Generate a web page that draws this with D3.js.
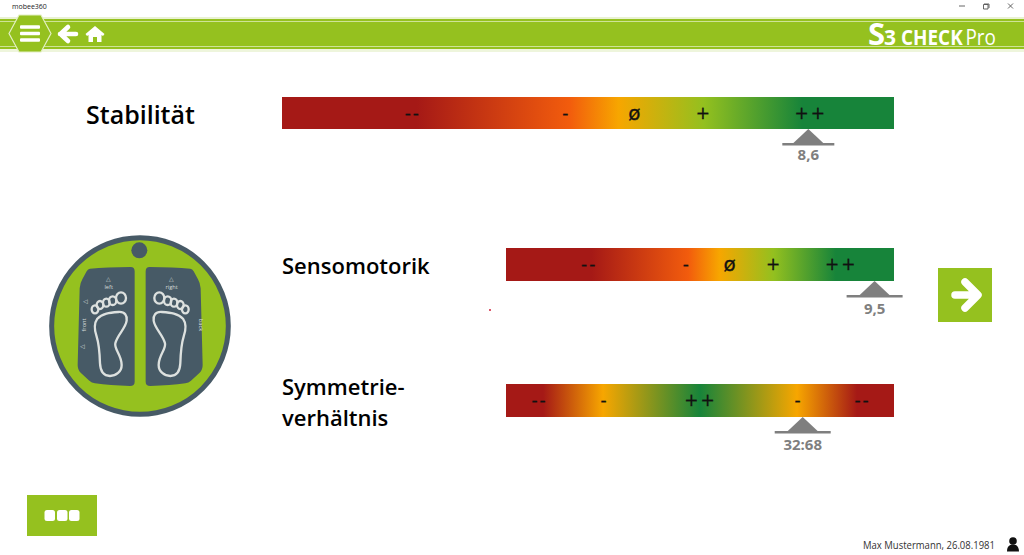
<!DOCTYPE html>
<html>
<head>
<meta charset="utf-8">
<script src="https://cdn.jsdelivr.net/npm/d3@7"></script>
<style>
  html, body { margin: 0; padding: 0; background: #fff; overflow: hidden; }
  text { font-family: "Open Sans", sans-serif; }
</style>
</head>
<body>
<script>
// data
const scoreTicks = [2.13, 4.62, 5.75, 6.87, 8.63];
const scoreLabels = ["--", "-", "ø", "+", "++"];
const scoreStops = [0, 2.2, 4.7, 5.5, 6.9, 8.5, 10];
const scoreColors = ["#a51916", "#a51916", "#f25c0d", "#f7a600", "#93c01f", "#17843a", "#17843a"];

const ratioTicks = [21.8, 33, 50, 67, 78.4];
const ratioLabels = ["--", "-", "++", "-", "--"];
const ratioStops = [16, 22.5, 33, 50, 67, 77.5, 84];
const ratioColors = ["#a51916", "#a51916", "#f7a600", "#17843a", "#f7a600", "#a51916", "#a51916"];

const stabilityValue = 8.6;
const stabilityLabel = "8,6";
const sensomotorValue = 9.5;
const sensomotorLabel = "9,5";
const symmetryValue = 68;
const symmetryLabel = "32:68";

const green = "#95c11f";
const slate = "#475a66";
const markerGrey = "#7f7f7f";

const svg = d3.select("body").append("svg")
    .attr("width", 1024)
    .attr("height", 555)
    .style("display", "block");
const defs = svg.append("defs");

// draw one gradient bar with its axis and marker
function drawBar(id, left, right, top, height, domain, stops, colors, ticks, labels, value, valueLabel, lineHalf, labelGap) {
    const x = d3.scaleLinear().domain(domain).range([left, right]);

    const grad = defs.append("linearGradient").attr("id", id);
    grad.selectAll("stop")
        .data(stops)
        .enter()
        .append("stop")
        .attr("offset", d => (d - domain[0]) / (domain[1] - domain[0]))
        .attr("stop-color", (d, i) => colors[i]);

    svg.append("rect")
        .attr("x", left)
        .attr("y", top)
        .attr("width", right - left)
        .attr("height", height)
        .attr("fill", "url(#" + id + ")");

    // tick labels sit inside the bar
    const axis = d3.axisBottom(x)
        .tickValues(ticks)
        .tickSize(0)
        .tickPadding(0)
        .tickFormat((d, i) => labels[i]);
    const axisGroup = svg.append("g")
        .attr("transform", "translate(0," + (top + height / 2) + ")")
        .call(axis);
    axisGroup.select(".domain").remove();
    axisGroup.selectAll("text")
        .attr("y", 0)
        .attr("dy", "0.33em")
        .style("font-family", "'DejaVu Sans', sans-serif")
        .style("font-size", (d, i) => labels[i] == "ø" ? "20px" : "17px")
        .style("letter-spacing", (d, i) => labels[i].length > 1 ? "2px" : "0")
        .attr("fill", "#111")
        .attr("stroke", "#111")
        .attr("stroke-width", 0.3);

    // marker under the bar
    const mx = x(value);
    const by = top + height;
    svg.append("path")
        .attr("d", "M" + mx + "," + by + "L" + (mx + 16) + "," + (by + 15) + "L" + (mx - 16) + "," + (by + 15) + "Z")
        .attr("fill", markerGrey);
    svg.append("rect")
        .attr("x", mx - lineHalf)
        .attr("y", by + 14)
        .attr("width", lineHalf * 2)
        .attr("height", 2.5)
        .attr("fill", markerGrey);
    svg.append("text")
        .text(valueLabel)
        .attr("x", mx)
        .attr("y", by + labelGap)
        .attr("text-anchor", "middle")
        .style("font-size", "15px")
        .style("font-weight", 700)
        .attr("fill", markerGrey);
}

drawBar("stabGrad", 282, 894, 97, 32, [0, 10], scoreStops, scoreColors, scoreTicks, scoreLabels, stabilityValue, stabilityLabel, 26, 31);
drawBar("sensGrad", 506, 894, 248, 33, [0, 10], scoreStops, scoreColors, scoreTicks, scoreLabels, sensomotorValue, sensomotorLabel, 28, 33);
drawBar("symGrad", 506, 894, 384, 33, [16, 84], ratioStops, ratioColors, ratioTicks, ratioLabels, symmetryValue, symmetryLabel, 28, 33);

// bar titles
function title(txt, tx, ty, size) {
    svg.append("text")
        .text(txt)
        .attr("x", tx)
        .attr("y", ty)
        .style("font-size", size + "px")
        .style("font-weight", 600)
        .attr("fill", "#000");
}
title("Stabilität", 86, 124, 25);
title("Sensomotorik", 282, 274, 22);
title("Symmetrie-", 282, 395, 22);
title("verhältnis", 282, 426, 22);

// window title bar
svg.append("text").text("mobee360")
    .attr("x", 12).attr("y", 8.5)
    .style("font-size", "7px").attr("fill", "#222");
const winIcons = svg.append("g").attr("stroke", "#555").attr("fill", "none").attr("stroke-width", 0.9);
winIcons.append("path").attr("d", "M959,6H965");
winIcons.append("path").attr("d", "M984,4H989V8M983.5,4.5H988V9H983.5Z");
winIcons.append("path").attr("d", "M1008,3.5L1013,8.5M1013,3.5L1008,8.5");

// header band
svg.append("rect").attr("x", 0).attr("y", 17).attr("width", 1024).attr("height", 4).attr("fill", "#e9f2d2");
svg.append("rect").attr("x", 0).attr("y", 19).attr("width", 1024).attr("height", 30).attr("fill", green);
svg.append("rect").attr("x", 0).attr("y", 21).attr("width", 1024).attr("height", 0.8).attr("fill", "#dcebb4");
svg.append("rect").attr("x", 0).attr("y", 46).attr("width", 1024).attr("height", 0.8).attr("fill", "#dcebb4");
svg.append("rect").attr("x", 0).attr("y", 49).attr("width", 1024).attr("height", 3).attr("fill", "#eef5dc");

// hexagon menu button
svg.append("path")
    .attr("d", "M9,33.5L19,15H41L51,33.5L41,52H19Z")
    .attr("fill", green)
    .attr("stroke", "#e4f0c4")
    .attr("stroke-width", 1.2);
svg.selectAll(".menuLine")
    .data([27, 33.5, 40])
    .enter()
    .append("rect")
    .attr("x", 20).attr("y", d => d - 1.8)
    .attr("width", 20).attr("height", 3.6).attr("rx", 1)
    .attr("fill", "#fff");

// back arrow and home
svg.append("path")
    .attr("d", "M60,34H76M68,27L60.5,34L68,41")
    .attr("fill", "none").attr("stroke", "#fff").attr("stroke-width", 4.6)
    .attr("stroke-linecap", "round").attr("stroke-linejoin", "round");
svg.append("path")
    .attr("d", "M85.5,34L95,26L104.5,34L103,36L101.5,35V42H97V37H93V42H88.5V35L87,36Z")
    .attr("fill", "#fff");

// logo
const logo = svg.append("g").attr("fill", "#fff");
logo.append("text").text("S").attr("x", 868).attr("y", 45).style("font-size", "31px").style("font-weight", 700);
logo.append("text").text("3").attr("x", 884).attr("y", 45).style("font-size", "21px").style("font-weight", 700);
logo.append("text").text("CHECK").attr("transform", "translate(901,45) scale(0.86,1)")
    .style("font-size", "22px").style("font-weight", 700);
logo.append("text").text("Pro").attr("transform", "translate(965.5,45) scale(0.9,1)")
    .style("font-size", "21px").style("font-weight", 400);

// sensor plate, coordinates are in a 3x space
const plate = svg.append("g").attr("transform", "translate(40,230) scale(0.3333)");
plate.append("circle").attr("cx", 300).attr("cy", 288).attr("r", 265)
    .attr("fill", green).attr("stroke", slate).attr("stroke-width", 15);
plate.append("circle").attr("cx", 298).attr("cy", 61).attr("r", 24).attr("fill", slate);

const padPath = "M150,116Q200,112 272,111Q284,111 284,124V455Q284,468 270,468Q210,466 165,460Q155,458 148,452L122,428Q113,420 113,405L119,175Q120,160 127,148L140,124Q144,117 150,116Z";
plate.append("path").attr("d", padPath).attr("fill", slate);
plate.append("path").attr("d", padPath).attr("fill", slate)
    .attr("transform", "translate(601,0) scale(-1,1)");

const footPath = "M235,246C255,244 262,258 260,272C257,295 232,315 226,340C222,358 245,375 245,405C245,425 228,438 210,438C190,438 181,422 180,400C179,370 178,345 170,320C163,300 160,283 172,266C186,250 210,248 235,246Z";
const toes = [[243, 204, 15, 17], [218, 212, 11, 13], [199, 218, 10, 12], [180, 225, 10, 12], [165, 238, 10, 12]];
const feet = plate.append("g").attr("fill", "none").attr("stroke", "#dde1df").attr("stroke-width", 7);
feet.append("path").attr("d", footPath);
feet.append("path").attr("d", footPath).attr("transform", "translate(601,0) scale(-1,1)");
feet.selectAll(".toeL").data(toes).enter().append("ellipse")
    .attr("cx", d => d[0]).attr("cy", d => d[1]).attr("rx", d => d[2]).attr("ry", d => d[3]);
feet.selectAll(".toeR").data(toes).enter().append("ellipse")
    .attr("cx", d => 601 - d[0]).attr("cy", d => d[1]).attr("rx", d => d[2]).attr("ry", d => d[3]);

function plateText(txt, tx, ty, rot) {
    plate.append("text")
        .text(txt)
        .attr("transform", "translate(" + tx + "," + ty + ") rotate(" + rot + ")")
        .attr("text-anchor", "middle")
        .style("font-size", "17px")
        .attr("fill", "#d5dad9");
}
plateText("left", 206, 176, 0);
plateText("right", 395, 176, 0);
plateText("front", 137, 285, -90);
plateText("back", 476, 285, 90);
plateText("△", 206, 153, 0);
plateText("△", 395, 153, 0);
plateText("△", 141, 216, -90);
plateText("△", 132, 350, -90);

// next button
svg.append("rect").attr("x", 938).attr("y", 268).attr("width", 54).attr("height", 54).attr("fill", green);
svg.append("path")
    .attr("d", "M955,295H977M965,282L978,295L965,308")
    .attr("fill", "none").attr("stroke", "#fff").attr("stroke-width", 7.5)
    .attr("stroke-linecap", "round").attr("stroke-linejoin", "round");

// more button
svg.append("rect").attr("x", 27).attr("y", 495).attr("width", 70).attr("height", 41).attr("fill", green);
svg.selectAll(".moreDot")
    .data([44.5, 57, 69])
    .enter()
    .append("rect")
    .attr("x", d => d).attr("y", 510).attr("width", 10.5).attr("height", 11).attr("rx", 2.5)
    .attr("fill", "#fff");

// stray red pixel
svg.append("circle").attr("cx", 490).attr("cy", 310).attr("r", 1).attr("fill", "#d0203a");

// footer
svg.append("text").text("Max Mustermann, 26.08.1981")
    .attr("x", 995).attr("y", 549)
    .attr("text-anchor", "end")
    .attr("textLength", 132).attr("lengthAdjust", "spacingAndGlyphs")
    .style("font-size", "11px").attr("fill", "#333");
svg.append("circle").attr("cx", 1013).attr("cy", 541).attr("r", 3.8).attr("fill", "#111");
svg.append("path").attr("d", "M1007,551.5C1007,546 1010,544.5 1013,544.5C1016,544.5 1019,546 1019,551.5Z").attr("fill", "#111");
</script>
</body>
</html>
